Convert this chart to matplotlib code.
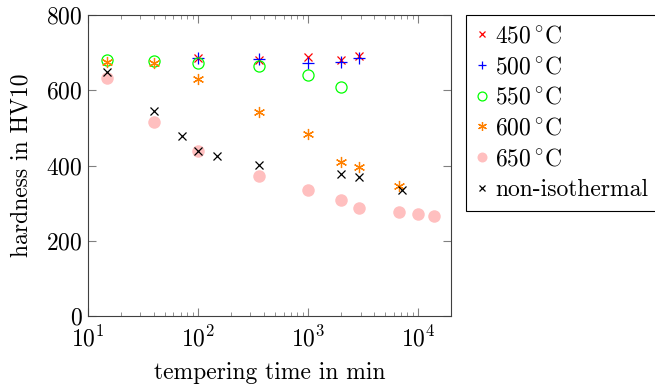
import matplotlib.pyplot as plt

plt.rcParams['font.family'] = 'serif'
plt.rcParams['font.serif'] = ['cmr10']
plt.rcParams['mathtext.fontset'] = 'cm'
plt.rcParams['axes.formatter.use_mathtext'] = True

# data
t450 = [100, 360, 1000, 2000, 2880]
hv450 = [686, 680, 688, 680, 690]
t500 = [100, 360, 1000, 2000, 2880]
hv500 = [686, 683, 672, 675, 686]
t550 = [15, 40, 100, 360, 1000, 2000]
hv550 = [680, 678, 672, 665, 640, 609]
t600 = [15, 40, 100, 360, 1000, 2000, 2880, 6700]
hv600 = [675, 672, 630, 542, 484, 409, 396, 346]
t650 = [15, 40, 100, 360, 1000, 2000, 2880, 6700, 10000, 14000]
hv650 = [633, 516, 439, 372, 335, 308, 287, 277, 271, 266]
tnon = [15, 40, 72, 100, 150, 360, 2000, 2880, 7200]
hvnon = [648, 545, 478, 438, 425, 401, 377, 369, 335]

fig = plt.figure(figsize=(6.55, 3.84), dpi=100)
ax = fig.add_axes([0.134, 0.177, 0.555, 0.784])

ax.plot(t450, hv450, ls='none', marker='x', ms=6, mew=0.9, color='#ff0000', label='$450\\,^{\\circ}\\mathrm{C}$')
ax.plot(t500, hv500, ls='none', marker='+', ms=8, mew=0.9, color='#0000ff', label='$500\\,^{\\circ}\\mathrm{C}$')
ax.plot(t550, hv550, ls='none', marker='o', ms=8, mew=0.9, mfc='none', color='#00ff00', label='$550\\,^{\\circ}\\mathrm{C}$')
ax.plot(t600, hv600, ls='none', marker=(6, 2, 0), ms=8, mew=0.9, color='#ff8000', label='$600\\,^{\\circ}\\mathrm{C}$')
ax.plot(t650, hv650, ls='none', marker='o', ms=9, mew=0, color='#ffbfbf', label='$650\\,^{\\circ}\\mathrm{C}$')
ax.plot(tnon, hvnon, ls='none', marker='x', ms=6, mew=0.9, color='black', label='non-isothermal')

ax.set_xscale('log')
ax.set_xlim(10, 2e4)
ax.set_ylim(0, 800)
ax.set_yticks([0, 200, 400, 600, 800])
ax.set_xlabel('tempering time in min', fontsize=17, labelpad=8)
ax.set_ylabel('hardness in HV10', fontsize=17, labelpad=10)
ax.tick_params(which='both', direction='in', top=True, right=True, color='#808080', labelsize=17)
ax.tick_params(axis='x', which='major', pad=7)
ax.tick_params(which='major', length=6)
ax.tick_params(which='minor', length=3)
for s in ax.spines.values():
    s.set_color('#404040')

leg = ax.legend(loc='upper left', bbox_to_anchor=(1.04, 1.0), fontsize=17, fancybox=False,
                edgecolor='black', framealpha=1, handlelength=0.5, handletextpad=0.3,
                borderaxespad=0, labelspacing=0.36, borderpad=0.45, markerscale=0.8)
leg.get_frame().set_linewidth(0.8)

plt.savefig('out.png', dpi=100)
